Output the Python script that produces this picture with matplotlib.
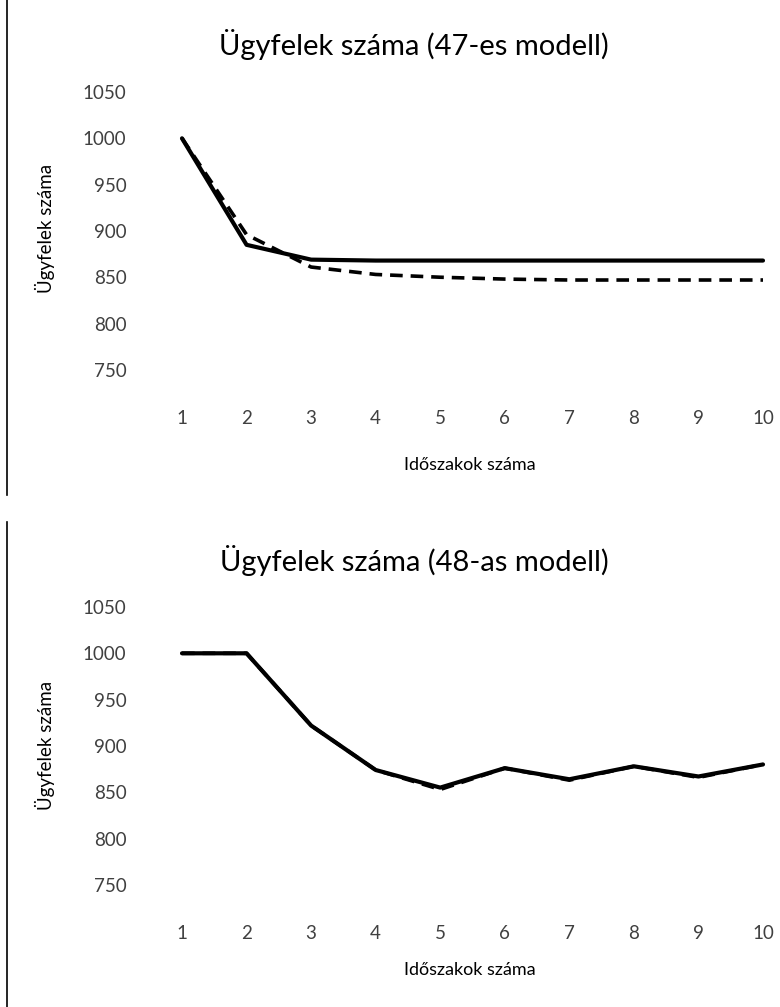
import matplotlib
matplotlib.use("Agg")
import matplotlib.pyplot as plt
from matplotlib.lines import Line2D

plt.rcParams['font.family'] = ['Lato', 'DejaVu Sans']

periods = [1, 2, 3, 4, 5, 6, 7, 8, 9, 10]
yticks = [750, 800, 850, 900, 950, 1000, 1050]

top_title = "Ügyfelek száma (47-es modell)"
top_solid = [1000, 885, 869, 868, 868, 868, 868, 868, 868, 868]
top_dashed = [1000, 896, 861, 853, 850, 848, 847, 847, 847, 847]

bot_title = "Ügyfelek száma (48-as modell)"
bot_solid = [1000, 1000, 922, 874, 855, 876, 864, 878, 867, 880]
bot_dashed = [1000, 1000, 922, 874, 853, 876, 863, 878, 866, 880]

xlabel = "Időszakok száma"
ylabel = "Ügyfelek száma"

W, H = 780, 1007
fig = plt.figure(figsize=(W / 100, H / 100), dpi=100)


def px_axes(left, right, top_px, bottom_px):
    return fig.add_axes([left / W, 1 - bottom_px / H, (right - left) / W, (bottom_px - top_px) / H])


def draw(ax, solid, dashed, title, title_y, ylab_y, xlab_y):
    ax.plot(periods, solid, color='black', lw=3.0, solid_joinstyle='round',
            solid_capstyle='round', clip_on=False, zorder=3)
    ax.plot(periods, dashed, color='black', lw=2.6, dashes=(3.5, 2.2), clip_on=False, zorder=2)
    ax.set_xlim(1, 10)
    ax.set_ylim(725, 1050)
    ax.set_xticks(periods)
    ax.set_yticks(yticks)
    for s in ax.spines.values():
        s.set_visible(False)
    ax.tick_params(axis='both', length=0, labelsize=13.5, colors='#404040', labelcolor='#404040')
    ax.tick_params(axis='x', pad=12)
    ax.tick_params(axis='y', pad=40)
    fig.text(414 / W, 1 - title_y / H, title, ha='center', va='center', fontsize=21, color='black')
    fig.text(45 / W, 1 - ylab_y / H, ylabel, ha='center', va='center', rotation=90, fontsize=13.5, color='black')
    fig.text(470 / W, 1 - xlab_y / H, xlabel, ha='center', va='center', fontsize=13, color='black')


ax1 = px_axes(182, 763, 92, 393)
draw(ax1, top_solid, top_dashed, top_title, 44, 228, 465)

ax2 = px_axes(182, 763, 607, 908)
draw(ax2, bot_solid, bot_dashed, bot_title, 560, 745, 970)

fig.add_artist(Line2D([7 / W, 7 / W], [1 - 0 / H, 1 - 495 / H], color='black', lw=1.2))
fig.add_artist(Line2D([7 / W, 7 / W], [1 - 522 / H, 1 - 1007 / H], color='black', lw=1.2))

fig.savefig("out.png", dpi=100, facecolor='white')
